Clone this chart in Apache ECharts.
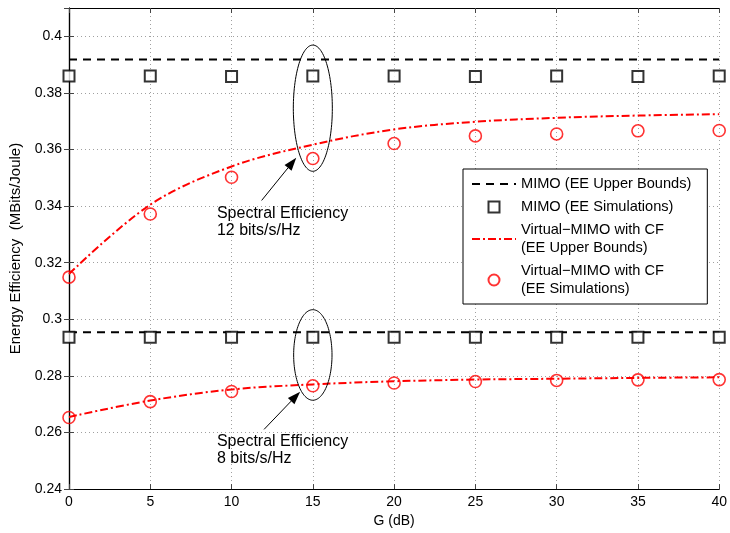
<!DOCTYPE html>
<html>
<head>
<meta charset="utf-8">
<script src="https://cdn.jsdelivr.net/npm/echarts@6/dist/echarts.min.js"></script>
<style>
html,body{margin:0;padding:0;background:#fff;}
#chart{width:730px;height:533px;}
</style>
</head>
<body>
<div id="chart"></div>
<script>
// ---- data ----
const gValues = [0, 5, 10, 15, 20, 25, 30, 35, 40];
const yTicks = [0.24, 0.26, 0.28, 0.30, 0.32, 0.34, 0.36, 0.38, 0.40];
const xTicks = [0, 5, 10, 15, 20, 25, 30, 35, 40];

const mimoUB12 = [0.3918, 0.3918, 0.3918, 0.3918, 0.3918, 0.3918, 0.3918, 0.3918, 0.3918];
const mimoSim12 = [0.3860, 0.3860, 0.3858, 0.3860, 0.3860, 0.3858, 0.3860, 0.3858, 0.3860];
const vmimoUB12 = [0.3160, 0.3405, 0.3540, 0.3617, 0.3671, 0.3698, 0.3712, 0.3720, 0.3725];
const vmimoSim12 = [0.3149, 0.3372, 0.3502, 0.3568, 0.3621, 0.3648, 0.3655, 0.3666, 0.3667];

const mimoUB8 = [0.2954, 0.2954, 0.2954, 0.2954, 0.2954, 0.2954, 0.2954, 0.2954, 0.2954];
const mimoSim8 = [0.2937, 0.2937, 0.2937, 0.2937, 0.2937, 0.2937, 0.2937, 0.2937, 0.2937];
const vmimoUB8 = [0.2655, 0.2713, 0.2752, 0.2770, 0.2781, 0.2787, 0.2790, 0.2793, 0.2795];
const vmimoSim8 = [0.2653, 0.2709, 0.2745, 0.2765, 0.2775, 0.2780, 0.2784, 0.2786, 0.2787];

const names = {
  mimoUB: 'MIMO (EE Upper Bounds)',
  mimoSim: 'MIMO (EE Simulations)',
  vUB: 'Virtual\u2212MIMO with CF\n(EE Upper Bounds)',
  vSim: 'Virtual\u2212MIMO with CF\n(EE Simulations)'
};

// annotation anchors (data units)
const ellipses = [
  { cx: 15, cy: 0.3746, rx: 1.2, ry: 0.0223 },
  { cx: 15, cy: 0.2874, rx: 1.18, ry: 0.0160 }
];
const arrows = [
  { from: [11.85, 0.3420], to: [13.98, 0.3571] },
  { from: [12.0, 0.2611], to: [14.22, 0.2744] }
];
const notes = [
  { at: [9.1, 0.3404], text: 'Spectral Efficiency\n12 bits/s/Hz' },
  { at: [9.1, 0.2597], text: 'Spectral Efficiency\n8 bits/s/Hz' }
];

const pair = arr => gValues.map((g, i) => [g, arr[i]]);
const FONT = 'Liberation Sans, Arial, Helvetica, sans-serif';

const chart = echarts.init(document.getElementById('chart'), null, { renderer: 'canvas' });

const dashBlack = { color: '#000', width: 2, type: [8, 6] };
const dashRed = { color: '#ff0000', width: 2, type: [8, 3, 2, 3] };
const sqStyle = { color: '#fff', borderColor: '#000', borderWidth: 2 };
const ciStyle = { color: 'rgba(255,255,255,0)', borderColor: '#ff0000', borderWidth: 1.6 };

const gridLine = { show: true, lineStyle: { color: '#a0a0a0', width: 1, type: [1, 3] } };

const option = {
  animation: false,
  backgroundColor: '#fff',
  grid: { left: 67, right: 3, top: 8, bottom: 40, containLabel: false },
  xAxis: [
    {
      type: 'value', min: 0, max: 40, interval: 5,
      name: 'G (dB)', nameLocation: 'middle', nameGap: 24,
      nameTextStyle: { fontFamily: FONT, fontSize: 14, color: '#000' },
      axisLine: { show: true, onZero: false, lineStyle: { color: '#000', width: 1.2 } },
      axisTick: { show: true, inside: true, length: 5, lineStyle: { color: '#444' } },
      axisLabel: { fontFamily: FONT, fontSize: 14, color: '#000', margin: 6 },
      splitLine: gridLine
    },
    {
      type: 'value', min: 0, max: 40, interval: 5, position: 'top',
      axisLine: { show: true, lineStyle: { color: '#000', width: 1.2 } },
      axisTick: { show: true, inside: true, length: 5, lineStyle: { color: '#444' } },
      axisLabel: { show: false }, splitLine: { show: false }
    }
  ],
  yAxis: [
    {
      type: 'value', min: 0.24, max: 0.41, interval: 0.02,
      name: 'Energy Efficiency  (MBits/Joule)', nameLocation: 'middle', nameGap: 46,
      nameTextStyle: { fontFamily: FONT, fontSize: 15, color: '#000' },
      axisLine: { show: true, onZero: false, lineStyle: { color: '#000', width: 1.2 } },
      axisTick: { show: true, inside: true, length: 5, lineStyle: { color: '#444' } },
      axisLabel: {
        fontFamily: FONT, fontSize: 14, color: '#000', margin: 7, showMaxLabel: false,
        formatter: v => (v > 0.405 ? '' : String(+v.toFixed(2)))
      },
      splitLine: gridLine
    },
    {
      type: 'value', min: 0.24, max: 0.41, interval: 0.02, position: 'right',
      axisLine: { show: true, lineStyle: { color: '#000', width: 1.2 } },
      axisTick: { show: true, inside: true, length: 5, lineStyle: { color: '#444' } },
      axisLabel: { show: false }, splitLine: { show: false }
    }
  ],
  legend: {
    orient: 'vertical', left: 463, top: 169,
    padding: [6, 16, 6, 8], itemGap: 5,
    itemWidth: 44, itemHeight: 11,
    backgroundColor: '#fff', borderColor: '#000', borderWidth: 1,
    textStyle: { fontFamily: FONT, fontSize: 14.6, color: '#000', lineHeight: 18 },
    data: [
      { name: names.mimoUB, itemStyle: { opacity: 0 } },
      { name: names.mimoSim, icon: 'path://M0 0H10V10H0Z' },
      { name: names.vUB, itemStyle: { opacity: 0 } },
      { name: names.vSim }
    ]
  },
  series: [
    { name: names.mimoUB, type: 'line', data: pair(mimoUB12), symbol: 'none', lineStyle: dashBlack, itemStyle: { color: '#000' } },
    { name: names.mimoUB, type: 'line', data: pair(mimoUB8), symbol: 'none', lineStyle: dashBlack, itemStyle: { color: '#000' } },
    { name: names.vUB, type: 'line', data: pair(vmimoUB12), symbol: 'none', smooth: 0.35, lineStyle: dashRed, itemStyle: { color: '#ff0000' } },
    { name: names.vUB, type: 'line', data: pair(vmimoUB8), symbol: 'none', smooth: 0.35, lineStyle: dashRed, itemStyle: { color: '#ff0000' } },
    { name: names.mimoSim, type: 'scatter', data: pair(mimoSim12), symbol: 'rect', symbolSize: 11, itemStyle: sqStyle, z: 5 },
    { name: names.mimoSim, type: 'scatter', data: pair(mimoSim8), symbol: 'rect', symbolSize: 11, itemStyle: sqStyle, z: 5 },
    { name: names.vSim, type: 'scatter', data: pair(vmimoSim12), symbol: 'circle', symbolSize: 12, itemStyle: ciStyle, z: 5 },
    { name: names.vSim, type: 'scatter', data: pair(vmimoSim8), symbol: 'circle', symbolSize: 12, itemStyle: ciStyle, z: 5 }
  ]
};

chart.setOption(option);

// ---- annotations positioned through the axes ----
const toPx = p => chart.convertToPixel({ xAxisIndex: 0, yAxisIndex: 0 }, p);
const graphics = [];
ellipses.forEach(e => {
  const c = toPx([e.cx, e.cy]);
  const ex = toPx([e.cx + e.rx, e.cy]);
  const ey = toPx([e.cx, e.cy + e.ry]);
  const rx = Math.abs(ex[0] - c[0]);
  const ry = Math.abs(c[1] - ey[1]);
  const pts = [];
  for (let i = 0; i < 120; i++) {
    const t = i / 120 * Math.PI * 2;
    pts.push([c[0] + rx * Math.cos(t), c[1] + ry * Math.sin(t)]);
  }
  graphics.push({ type: 'polygon', shape: { points: pts }, style: { fill: 'none', stroke: '#000', lineWidth: 1 }, z: 10 });
});
arrows.forEach(a => {
  const p0 = toPx(a.from), p1 = toPx(a.to);
  const ang = Math.atan2(p1[1] - p0[1], p1[0] - p0[0]);
  const L = 13, W = 4.5;
  const bx = p1[0] - L * Math.cos(ang), by = p1[1] - L * Math.sin(ang);
  const nx = -Math.sin(ang), ny = Math.cos(ang);
  graphics.push({ type: 'line', shape: { x1: p0[0], y1: p0[1], x2: bx, y2: by }, style: { stroke: '#000', lineWidth: 1 }, z: 10 });
  graphics.push({ type: 'polygon', shape: { points: [[p1[0], p1[1]], [bx + nx * W, by + ny * W], [bx - nx * W, by - ny * W]] }, style: { fill: '#000' }, z: 10 });
});
notes.forEach(n => {
  const p = toPx(n.at);
  graphics.push({ type: 'text', x: p[0], y: p[1], style: { text: n.text, font: '16px ' + FONT, fill: '#000', lineHeight: 17, textAlign: 'left', textVerticalAlign: 'top' }, z: 10 });
});
chart.setOption({ graphic: graphics });
</script>
</body>
</html>
